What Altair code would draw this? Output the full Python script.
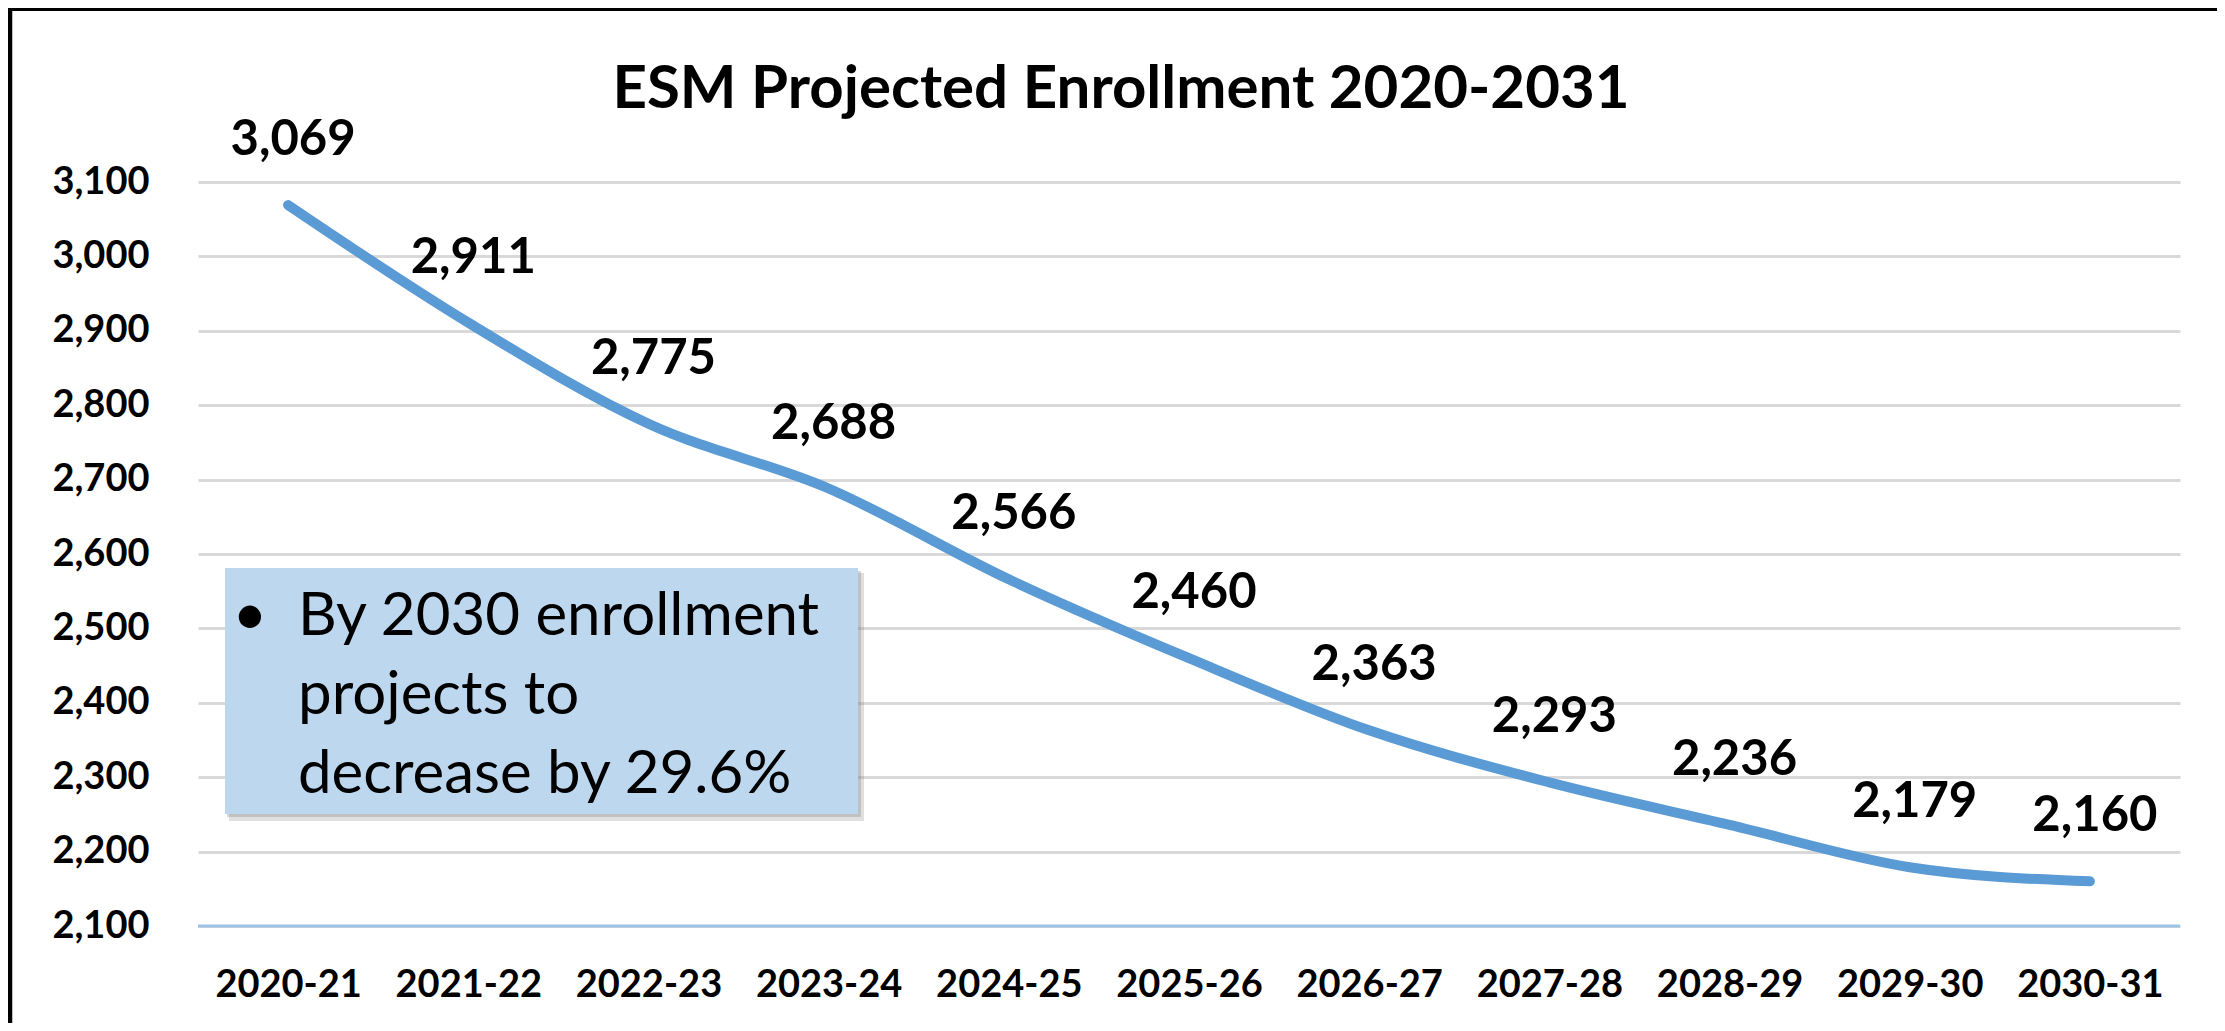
import altair as alt
import pandas as pd

# ---- data ----
years = ["2020-21", "2021-22", "2022-23", "2023-24", "2024-25", "2025-26",
         "2026-27", "2027-28", "2028-29", "2029-30", "2030-31"]
enrollment = [3069, 2911, 2775, 2688, 2566, 2460, 2363, 2293, 2236, 2179, 2160]
y_ticks = [2100, 2200, 2300, 2400, 2500, 2600, 2700, 2800, 2900, 3000, 3100]
y_domain = [2100, 3100]
title_text = "ESM Projected Enrollment 2020-2031"
note_bullet = "\u2022"
note_lines = ["By 2030 enrollment", "projects to", "decrease by 29.6%"]

FONT = "Lato"
W, H = 1982, 744

df = pd.DataFrame({"year": years, "enrollment": enrollment})
one = pd.DataFrame({"k": [0]})
base_df = pd.DataFrame({"enrollment": [y_domain[0]]})

x_enc = alt.X(
    "year:N", sort=years,
    scale=alt.Scale(type="point", padding=0.5),
    axis=alt.Axis(title=None, labelAngle=0, labelFont=FONT, labelFontSize=38,
                  labelFontWeight="bold", labelColor="black", labelPadding=40,
                  ticks=False, domain=False, grid=False),
)
y_axis = alt.Axis(title=None, values=y_ticks, format=",.0f", labelFont=FONT,
                  labelFontSize=38, labelFontWeight="bold", labelColor="black",
                  labelPadding=49, ticks=False, domain=False, grid=True,
                  gridColor="#D9D9D9", gridWidth=3)
y_scale = alt.Scale(domain=y_domain, nice=False, zero=False)
y_enc = alt.Y("enrollment:Q", scale=y_scale, axis=y_axis)

base = alt.Chart(df)

line = base.mark_line(color="#5B9BD5", strokeWidth=10, interpolate="monotone",
                      strokeCap="round", strokeJoin="round").encode(x=x_enc, y=y_enc)

labels = base.mark_text(font=FONT, fontSize=49, fontWeight="bold", dx=5, dy=-65,
                        color="black").encode(
    x=x_enc,
    y=y_enc,
    text=alt.Text("enrollment:Q", format=",.0f"),
)

baseline = alt.Chart(base_df).mark_rule(color="#9DC3E6", strokeWidth=3).encode(
    y=y_enc
)

# chart title
title = alt.Chart(one).mark_text(text=title_text, font=FONT, fontSize=60,
                                 fontWeight="bold", align="center",
                                 baseline="alphabetic", color="black").encode(
    x=alt.value(923), y=alt.value(-74))

# annotation box with soft shadow
shadow1 = alt.Chart(one).mark_rect(color="#7F7F7F", opacity=0.25).encode(
    x=alt.value(31), x2=alt.value(666), y=alt.value(391), y2=alt.value(639))
shadow2 = alt.Chart(one).mark_rect(color="#7F7F7F", opacity=0.3).encode(
    x=alt.value(29), x2=alt.value(663), y=alt.value(389), y2=alt.value(635))
box = alt.Chart(one).mark_rect(color="#BDD7EE").encode(
    x=alt.value(27), x2=alt.value(660), y=alt.value(386), y2=alt.value(632))
bullet = alt.Chart(one).mark_text(text=note_bullet, font=FONT, fontSize=60,
                                  align="center", baseline="middle",
                                  color="black").encode(
    x=alt.value(52), y=alt.value(435))
note = alt.Chart(one).mark_text(text=note_lines, font=FONT, fontSize=60,
                                lineHeight=79, align="left", baseline="middle",
                                color="black").encode(
    x=alt.value(100), y=alt.value(435))

# frame lines of the slide
left_border = alt.Chart(one).mark_rule(color="black", strokeWidth=4.5).encode(
    x=alt.value(-188), y=alt.value(-174), y2=alt.value(841))
top_border = alt.Chart(one).mark_rule(color="black", strokeWidth=3).encode(
    y=alt.value(-172.5), x=alt.value(-190), x2=alt.value(2019))

chart = alt.layer(
    line, baseline, labels, title, shadow1, shadow2, box, bullet, note,
    left_border, top_border,
).properties(
    width=W, height=H,
    autosize=alt.AutoSizeParams(type="none"),
    padding={"left": 190, "top": 174, "right": 37, "bottom": 97},
    background="white",
).configure_view(stroke=None)

chart.save("out.html", embed_options={"renderer": "svg", "actions": False})
